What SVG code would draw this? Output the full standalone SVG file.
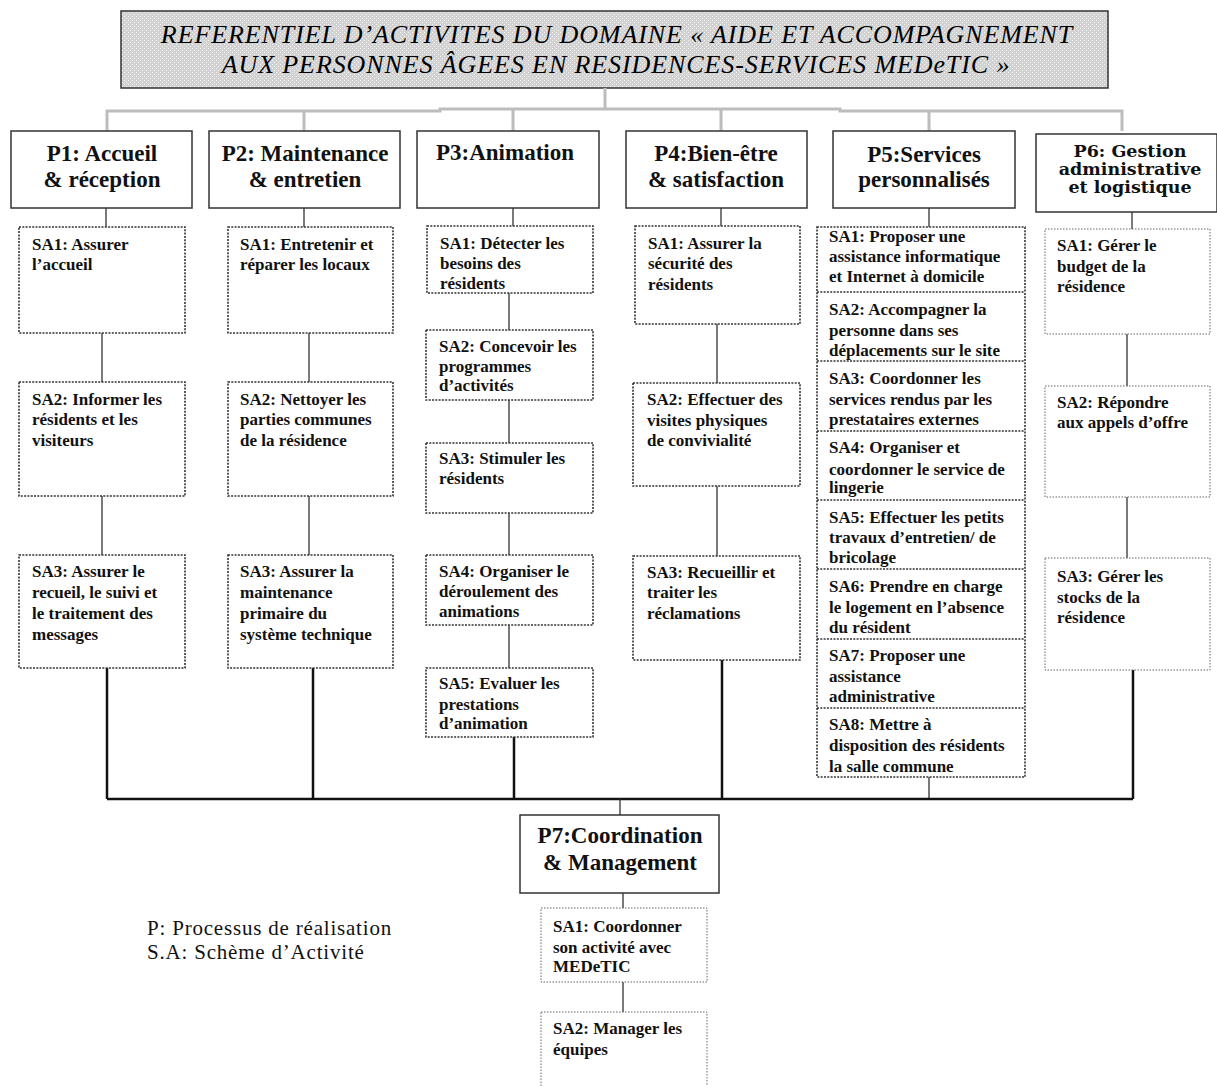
<svg xmlns="http://www.w3.org/2000/svg" width="1217" height="1086" viewBox="0 0 1217 1086">
<defs>
<pattern id="dots" width="4" height="4" patternUnits="userSpaceOnUse">
<rect width="4" height="4" fill="#d2d2d2"/>
<rect width="1" height="1" fill="#f2f2f2"/>
<rect x="2" y="2" width="1" height="1" fill="#f2f2f2"/>
</pattern>
<style>
.title{font-family:"Liberation Serif",serif;font-style:italic;font-size:26px;letter-spacing:0.9px;fill:#000}
.pbox{fill:#fff;stroke:#333;stroke-width:1.5}
.ptxt{font-family:"Liberation Serif",serif;font-weight:bold;font-size:23px;fill:#111;text-anchor:middle}
.p6txt{font-family:"DejaVu Serif",serif;font-weight:bold;font-size:17.5px;fill:#111;text-anchor:middle}
.sa{fill:#fff;stroke:#333;stroke-width:1.6;stroke-dasharray:2 1.3}
.sal{fill:#fff;stroke:#666;stroke-width:1;stroke-dasharray:1.5 1.5}
.div{stroke:#333;stroke-width:1.4;stroke-dasharray:2 1.3;fill:none}
.st{font-family:"Liberation Serif",serif;font-weight:bold;font-size:17px;fill:#111}
.grey{stroke:#bdbdbd;stroke-width:3;fill:none}
.thin{stroke:#333;stroke-width:1.3;fill:none}
.thick{stroke:#111;stroke-width:2.5;fill:none}
.leg{font-family:"Liberation Serif",serif;font-size:21px;letter-spacing:0.8px;fill:#111}
</style>
</defs>
<rect width="1217" height="1086" fill="#fff"/>

<g id="title">
<rect x="121" y="11" width="987" height="77" fill="url(#dots)" stroke="#333" stroke-width="1.5"/>
<text class="title" x="617" y="43" text-anchor="middle">REFERENTIEL D’ACTIVITES DU DOMAINE «  AIDE ET ACCOMPAGNEMENT</text>
<text class="title" x="616" y="73" text-anchor="middle">AUX PERSONNES ÂGEES EN RESIDENCES-SERVICES MEDeTIC »</text>
</g>

<g id="connectors">
<path class="grey" d="M605 88V109 M107 131V111H440V109H840V111H1122V131 M304 111V131 M513 109V131 M721 109V131 M929 111V131"/>
<path class="thin" d="M106 208V227 M102 333V382 M102 496V555"/>
<path class="thin" d="M304 208V227 M309 333V382 M309 496V555"/>
<path class="thin" d="M513 208V226 M509 293V330 M509 400V443 M509 513V555 M509 625V668"/>
<path class="thin" d="M721 208V226 M717 324V383 M717 486V556"/>
<path class="thin" d="M929 208V227 M929 777V799"/>
<path class="thin" d="M1132 212V229 M1127 334V386 M1127 497V558"/>
<path class="thick" d="M107 668V799 M313 668V799 M514 737V799 M722 660V799 M1133 670V799 M107 799H1133"/>
<path class="thin" d="M620 799V815 M623 893V908 M623 982V1012"/>
</g>

<g id="P1">
<rect class="pbox" x="11" y="131" width="181" height="77"/>
<text class="ptxt" x="102" y="161">P1: Accueil</text>
<text class="ptxt" x="102" y="187">&amp; réception</text>
</g>
<g id="P1-SA1"><rect class="sa" x="19" y="227" width="166" height="106"/>
<text class="st" x="32" y="250">SA1: Assurer</text><text class="st" x="32" y="270">l’accueil</text></g>
<g id="P1-SA2"><rect class="sa" x="19" y="382" width="166" height="114"/>
<text class="st" x="32" y="405">SA2: Informer les</text><text class="st" x="32" y="425">résidents et les</text><text class="st" x="32" y="446">visiteurs</text></g>
<g id="P1-SA3"><rect class="sa" x="19" y="555" width="166" height="113"/>
<text class="st" x="32" y="577">SA3: Assurer le</text><text class="st" x="32" y="598">recueil, le suivi et</text><text class="st" x="32" y="619">le traitement des</text><text class="st" x="32" y="640">messages</text></g>

<g id="P2">
<rect class="pbox" x="209" y="131" width="191" height="77"/>
<text class="ptxt" x="305" y="161">P2: Maintenance</text>
<text class="ptxt" x="305" y="187">&amp; entretien</text>
</g>
<g id="P2-SA1"><rect class="sa" x="228" y="227" width="165" height="106"/>
<text class="st" x="240" y="250">SA1: Entretenir et</text><text class="st" x="240" y="270">réparer les locaux</text></g>
<g id="P2-SA2"><rect class="sa" x="228" y="382" width="165" height="114"/>
<text class="st" x="240" y="405">SA2: Nettoyer les</text><text class="st" x="240" y="425">parties communes</text><text class="st" x="240" y="446">de la résidence</text></g>
<g id="P2-SA3"><rect class="sa" x="228" y="555" width="165" height="113"/>
<text class="st" x="240" y="577">SA3: Assurer la</text><text class="st" x="240" y="598">maintenance</text><text class="st" x="240" y="619">primaire du</text><text class="st" x="240" y="640">système technique</text></g>

<g id="P3">
<rect class="pbox" x="417" y="131" width="182" height="77"/>
<text class="ptxt" x="505" y="160">P3:Animation</text>
</g>
<g id="P3-SA1"><rect class="sa" x="427" y="226" width="166" height="67"/>
<text class="st" x="440" y="249">SA1: Détecter les</text><text class="st" x="440" y="269">besoins des</text><text class="st" x="440" y="289">résidents</text></g>
<g id="P3-SA2"><rect class="sa" x="426" y="330" width="167" height="70"/>
<text class="st" x="439" y="352">SA2: Concevoir les</text><text class="st" x="439" y="372">programmes</text><text class="st" x="439" y="391">d’activités</text></g>
<g id="P3-SA3"><rect class="sa" x="426" y="443" width="167" height="70"/>
<text class="st" x="439" y="464">SA3: Stimuler les</text><text class="st" x="439" y="484">résidents</text></g>
<g id="P3-SA4"><rect class="sa" x="426" y="555" width="167" height="70"/>
<text class="st" x="439" y="577">SA4: Organiser le</text><text class="st" x="439" y="597">déroulement des</text><text class="st" x="439" y="617">animations</text></g>
<g id="P3-SA5"><rect class="sa" x="426" y="668" width="167" height="69"/>
<text class="st" x="439" y="689">SA5: Evaluer les</text><text class="st" x="439" y="710">prestations</text><text class="st" x="439" y="729">d’animation</text></g>

<g id="P4">
<rect class="pbox" x="626" y="131" width="181" height="77"/>
<text class="ptxt" x="716" y="161">P4:Bien-être</text>
<text class="ptxt" x="716" y="187">&amp; satisfaction</text>
</g>
<g id="P4-SA1"><rect class="sa" x="635" y="226" width="165" height="98"/>
<text class="st" x="648" y="249">SA1: Assurer la</text><text class="st" x="648" y="269">sécurité des</text><text class="st" x="648" y="290">résidents</text></g>
<g id="P4-SA2"><rect class="sa" x="633" y="383" width="167" height="103"/>
<text class="st" x="647" y="405">SA2: Effectuer des</text><text class="st" x="647" y="426">visites physiques</text><text class="st" x="647" y="446">de convivialité</text></g>
<g id="P4-SA3"><rect class="sa" x="633" y="556" width="167" height="104"/>
<text class="st" x="647" y="578">SA3: Recueillir et</text><text class="st" x="647" y="598">traiter les</text><text class="st" x="647" y="619">réclamations</text></g>

<g id="P5">
<rect class="pbox" x="833" y="131" width="182" height="77"/>
<text class="ptxt" x="924" y="162">P5:Services</text>
<text class="ptxt" x="924" y="187">personnalisés</text>
</g>
<g id="P5-SAs">
<rect class="sa" x="817" y="227" width="208" height="550"/>
<path class="div" d="M817 292H1025 M817 361H1025 M817 431H1025 M817 500H1025 M817 569H1025 M817 639H1025 M817 708H1025"/>
</g>
<g id="P5-SA1"><text class="st" x="829" y="242">SA1: Proposer une</text><text class="st" x="829" y="262">assistance informatique</text><text class="st" x="829" y="282">et Internet à domicile</text></g>
<g id="P5-SA2"><text class="st" x="829" y="315">SA2: Accompagner la</text><text class="st" x="829" y="336">personne dans ses</text><text class="st" x="829" y="356">déplacements sur le site</text></g>
<g id="P5-SA3"><text class="st" x="829" y="384">SA3: Coordonner les</text><text class="st" x="829" y="405">services rendus par les</text><text class="st" x="829" y="425">prestataires externes</text></g>
<g id="P5-SA4"><text class="st" x="829" y="453">SA4: Organiser et</text><text class="st" x="829" y="475">coordonner le service de</text><text class="st" x="829" y="493">lingerie</text></g>
<g id="P5-SA5"><text class="st" x="829" y="523">SA5: Effectuer les petits</text><text class="st" x="829" y="543">travaux d’entretien/ de</text><text class="st" x="829" y="563">bricolage</text></g>
<g id="P5-SA6"><text class="st" x="829" y="592">SA6: Prendre en charge</text><text class="st" x="829" y="613">le logement en l’absence</text><text class="st" x="829" y="633">du résident</text></g>
<g id="P5-SA7"><text class="st" x="829" y="661">SA7: Proposer une</text><text class="st" x="829" y="682">assistance</text><text class="st" x="829" y="702">administrative</text></g>
<g id="P5-SA8"><text class="st" x="829" y="730">SA8: Mettre à</text><text class="st" x="829" y="751">disposition des résidents</text><text class="st" x="829" y="772">la salle commune</text></g>

<g id="P6">
<rect class="pbox" x="1036" y="134" width="181" height="78"/>
<text class="p6txt" x="1130" y="157">P6: Gestion</text>
<text class="p6txt" x="1130" y="175">administrative</text>
<text class="p6txt" x="1130" y="193">et logistique</text>
</g>
<g id="P6-SA1"><rect class="sal" x="1045" y="229" width="165" height="105"/>
<text class="st" x="1057" y="251">SA1: Gérer le</text><text class="st" x="1057" y="272">budget de la</text><text class="st" x="1057" y="292">résidence</text></g>
<g id="P6-SA2"><rect class="sal" x="1045" y="386" width="165" height="111"/>
<text class="st" x="1057" y="408">SA2: Répondre</text><text class="st" x="1057" y="428">aux appels d’offre</text></g>
<g id="P6-SA3"><rect class="sal" x="1045" y="558" width="165" height="112"/>
<text class="st" x="1057" y="582">SA3: Gérer les</text><text class="st" x="1057" y="603">stocks de la</text><text class="st" x="1057" y="623">résidence</text></g>

<g id="P7">
<rect class="pbox" x="520" y="815" width="199" height="78"/>
<text class="ptxt" x="620" y="843">P7:Coordination</text>
<text class="ptxt" x="620" y="870">&amp; Management</text>
</g>
<g id="P7-SA1"><rect class="sal" x="541" y="908" width="166" height="74"/>
<text class="st" x="553" y="932">SA1: Coordonner</text><text class="st" x="553" y="953">son activité avec</text><text class="st" x="553" y="972">MEDeTIC</text></g>
<g id="P7-SA2"><rect class="sal" x="541" y="1012" width="166" height="90"/>
<text class="st" x="553" y="1034">SA2: Manager les</text><text class="st" x="553" y="1055">équipes</text></g>

<g id="legend">
<text class="leg" x="147" y="935">P: Processus de réalisation</text>
<text class="leg" x="147" y="959">S.A: Schème d’Activité</text>
</g>
</svg>
